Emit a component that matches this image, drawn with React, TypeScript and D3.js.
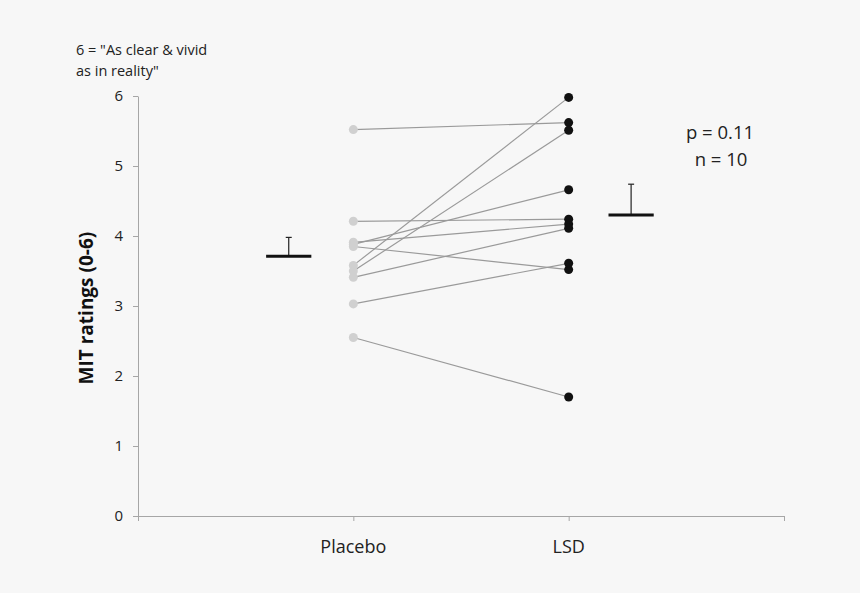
import React, { useEffect, useRef } from "react";
import * as d3 from "d3";

// paired ratings, one entry per participant
const placebo = [5.52, 4.21, 3.91, 3.88, 3.85, 3.58, 3.5, 3.41, 3.03, 2.55];
const lsd = [5.62, 4.24, 4.17, 4.66, 3.52, 5.98, 5.51, 4.11, 3.61, 1.7];

const categories = ["Placebo", "LSD"];
const categoryPos = [1, 2];
// mean markers are drawn offset from the points, with upper SEM whiskers
const meanPos = [0.7, 2.29];
const means = [3.71, 4.3];
const sems = [0.27, 0.44];

const yTicks = [0, 1, 2, 3, 4, 5, 6];
const xTicks = [0, 1, 2, 3];

const W = 860;
const H = 593;

const App = () => {
  const svgRef = useRef<SVGSVGElement | null>(null);

  useEffect(() => {
    const svg = d3.select(svgRef.current);
    svg.selectAll("*").remove();

    const font = "'Open Sans', sans-serif";
    const axisColor = "#a6a6a6";

    const x = d3.scaleLinear().domain([0, 3]).range([138, 784]);
    const y = d3.scaleLinear().domain([0, 6]).range([516, 96]);

    svg.append("rect").attr("width", W).attr("height", H).attr("fill", "#f7f7f7");

    // Y axis
    const yAxis = svg
      .append("g")
      .attr("transform", `translate(${x(0)},0)`)
      .call(
        d3.axisLeft(y).tickValues(yTicks).tickSize(5).tickSizeOuter(0).tickPadding(10).tickFormat(d3.format("d"))
      );
    yAxis.select(".domain").attr("stroke", axisColor);
    yAxis.selectAll(".tick line").attr("stroke", axisColor);
    yAxis
      .selectAll(".tick text")
      .attr("fill", "#222")
      .style("font-family", font)
      .style("font-size", "15px");

    // X axis (ticks only, labels added separately)
    const xAxis = svg
      .append("g")
      .attr("transform", `translate(0,${y(0)})`)
      .call(d3.axisBottom(x).tickValues(xTicks).tickSize(5).tickSizeOuter(0).tickFormat(() => ""));
    xAxis.select(".domain").attr("stroke", axisColor);
    xAxis.selectAll(".tick line").attr("stroke", axisColor);

    svg
      .selectAll(".cat")
      .data(categories)
      .enter()
      .append("text")
      .attr("x", (_, i) => x(categoryPos[i]))
      .attr("y", y(0) + 37)
      .attr("text-anchor", "middle")
      .attr("fill", "#222")
      .style("font-family", font)
      .style("font-size", "18px")
      .text((d) => d);

    // connecting lines
    svg
      .selectAll(".pair")
      .data(placebo)
      .enter()
      .append("line")
      .attr("x1", x(categoryPos[0]))
      .attr("y1", (d) => y(d))
      .attr("x2", x(categoryPos[1]))
      .attr("y2", (_, i) => y(lsd[i]))
      .attr("stroke", "#9a9a9a")
      .attr("stroke-width", 1.2);

    svg
      .selectAll(".pl")
      .data(placebo)
      .enter()
      .append("circle")
      .attr("cx", x(categoryPos[0]))
      .attr("cy", (d) => y(d))
      .attr("r", 4.5)
      .attr("fill", "#d0d0d0");

    svg
      .selectAll(".ls")
      .data(lsd)
      .enter()
      .append("circle")
      .attr("cx", x(categoryPos[1]))
      .attr("cy", (d) => y(d))
      .attr("r", 4.5)
      .attr("fill", "#111");

    // means with upper error bars
    const barHalf = x(0.105) - x(0);
    means.forEach((m, i) => {
      const cx = x(meanPos[i]);
      svg
        .append("line")
        .attr("x1", cx)
        .attr("x2", cx)
        .attr("y1", y(m))
        .attr("y2", y(m + sems[i]))
        .attr("stroke", "#222")
        .attr("stroke-width", 1.2);
      svg
        .append("line")
        .attr("x1", cx - 3)
        .attr("x2", cx + 3)
        .attr("y1", y(m + sems[i]))
        .attr("y2", y(m + sems[i]))
        .attr("stroke", "#222")
        .attr("stroke-width", 1.2);
      svg
        .append("line")
        .attr("x1", cx - barHalf)
        .attr("x2", cx + barHalf)
        .attr("y1", y(m))
        .attr("y2", y(m))
        .attr("stroke", "#111")
        .attr("stroke-width", 3);
    });

    // annotations
    const note = svg
      .append("text")
      .attr("fill", "#222")
      .style("font-family", font)
      .style("font-size", "14.5px");
    note.append("tspan").attr("x", 76).attr("y", 55).text('6 = "As clear & vivid');
    note.append("tspan").attr("x", 76).attr("y", 76).text('as in reality"');

    svg
      .append("text")
      .attr("x", 720)
      .attr("y", 139)
      .attr("text-anchor", "middle")
      .attr("fill", "#222")
      .style("font-family", font)
      .style("font-size", "18.5px")
      .text("p = 0.11");
    svg
      .append("text")
      .attr("x", 721)
      .attr("y", 166)
      .attr("text-anchor", "middle")
      .attr("fill", "#222")
      .style("font-family", font)
      .style("font-size", "18.5px")
      .text("n = 10");

    svg
      .append("text")
      .attr("transform", `translate(93,${y(2.97)}) rotate(-90)`)
      .attr("text-anchor", "middle")
      .attr("fill", "#111")
      .style("font-family", font)
      .style("font-weight", "bold")
      .style("font-size", "19px")
      .text("MIT ratings (0-6)");
  }, []);

  return <svg ref={svgRef} width={W} height={H} style={{ display: "block", position: "absolute", left: 0, top: 0 }} />;
};

export default App;
